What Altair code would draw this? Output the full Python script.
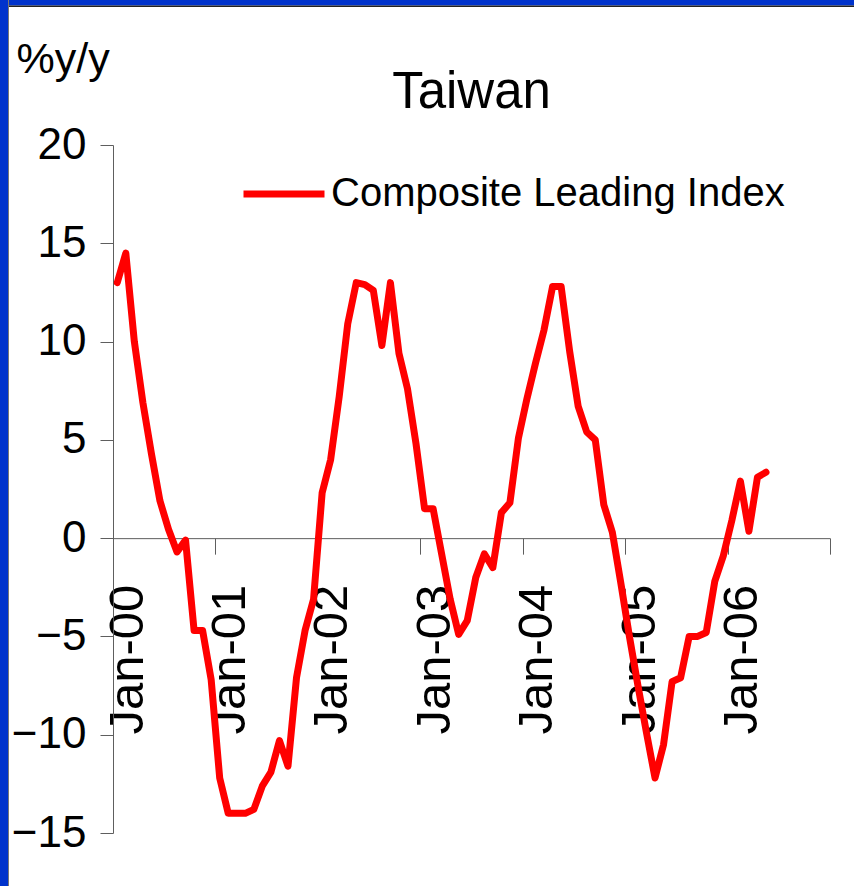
import json
import altair as alt
import pandas as pd

# Taiwan composite leading index, % change year on year, monthly from Jan-2000
TITLE = "Taiwan"
SERIES_NAME = "Composite Leading Index"
CLI_YOY = [
    13.0, 14.5, 10.0, 6.9, 4.3, 1.9, 0.45, -0.7, -0.1, -4.7, -4.7, -7.2,
    -12.2, -14.0, -14.0, -14.0, -13.8, -12.6, -11.9, -10.3, -11.6, -7.1, -4.7, -3.1,
    2.3, 4.0, 7.2, 10.9, 13.0, 12.9, 12.6, 9.8, 13.0, 9.4, 7.6, 4.8,
    1.5, 1.5, -0.8, -3.1, -4.9, -4.2, -2.0, -0.8, -1.5, 1.3, 1.8, 5.1,
    7.1, 8.9, 10.6, 12.8, 12.8, 9.5, 6.7, 5.4, 5.0, 1.7, 0.3, -2.3,
    -5.0, -7.5, -9.9, -12.2, -10.5, -7.3, -7.1, -5.0, -5.0, -4.8, -2.2, -0.9,
    0.9, 2.9, 0.35, 3.1, 3.35,
]
YEAR_LABELS = ["Jan-00", "Jan-01", "Jan-02", "Jan-03", "Jan-04", "Jan-05", "Jan-06"]
Y_TICKS = [-15, -10, -5, 0, 5, 10, 15, 20]

NARROW = "Liberation Sans Narrow, Arial Narrow, Liberation Sans, sans-serif"
REGULAR = "Liberation Sans, Arial, sans-serif"
BLUE = "#0033cc"
AXIS_GREY = "#5e5e5e"

# page 854 x 886, plot area placed at (113, 145)
PAD = {"left": 113, "top": 145, "right": 24, "bottom": 53}
W, H = 717, 688
Y_MIN, Y_MAX = -15, 20
N_CATS = 12 * len(YEAR_LABELS)  # category axis runs through Dec-06

df = pd.DataFrame({
    "month": list(range(len(CLI_YOY))),
    "yoy": CLI_YOY,
    "series": [SERIES_NAME] * len(CLI_YOY),
})

# ticks sit between December and January of each year
year_ticks = [12 * k - 0.5 for k in range(len(YEAR_LABELS) + 1)]
label_expr = (
    f"{json.dumps(YEAR_LABELS)}[round((datum.value + 0.5) / 12)] || ''"
)
# x axis crosses the value axis at zero
zero_offset = -H * (0 - Y_MIN) / (Y_MAX - Y_MIN)

line = alt.Chart(df).mark_line(
    strokeWidth=7, strokeJoin="round", strokeCap="round"
).encode(
    x=alt.X(
        "month:Q",
        scale=alt.Scale(domain=[-0.5, N_CATS - 0.5], nice=False, zero=False),
        axis=alt.Axis(
            values=year_ticks, labelExpr=label_expr, title=None, grid=False,
            offset=zero_offset, tickSize=16, tickColor=AXIS_GREY, tickWidth=1,
            domainColor=AXIS_GREY, domainWidth=1,
            labelAngle=270, labelAlign="right", labelBaseline="middle",
            labelPadding=30, labelOffset=14, labelFont=REGULAR, labelFontSize=49,
            labelColor="#000000", labelOverlap=False, labelFlush=False,
        ),
    ),
    y=alt.Y(
        "yoy:Q",
        scale=alt.Scale(domain=[Y_MIN, Y_MAX], nice=False, zero=False),
        axis=alt.Axis(
            values=Y_TICKS, grid=False, tickSize=13, tickColor=AXIS_GREY,
            domainColor=AXIS_GREY, labelPadding=14, labelFont=REGULAR,
            labelFontSize=44, labelColor="#000000",
            title="%y/y", titleAngle=0, titleAlign="left",
            titleBaseline="alphabetic", titleX=-97, titleY=-73,
            titleFont=NARROW, titleFontSize=43, titleFontWeight="normal",
            titleColor="#000000",
        ),
    ),
    color=alt.Color(
        "series:N",
        scale=alt.Scale(range=["#ff0000"]),
        legend=alt.Legend(
            title=None, orient="none", legendX=127, legendY=5,
            symbolType="stroke", symbolSize=6561, symbolStrokeWidth=7,
            labelFont=NARROW, labelFontSize=40, labelColor="#000000",
            labelOffset=3, labelLimit=1000, padding=0,
        ),
    ),
)

# chart heading, centred over the plot area
heading = alt.Chart(pd.DataFrame({"t": [TITLE]})).mark_text(
    font=NARROW, fontSize=51, color="#000000",
    align="center", baseline="alphabetic",
).encode(
    text="t:N",
    x=alt.value(W / 2),
    y=alt.value(-37),
)

# slide frame: blue bands on the top and left edges
frame_df = pd.DataFrame({
    "x": [-113, -113, -105, -113],
    "x2": [741, 741, -104, -105],
    "y": [-145, -139.5, -145, -145],
    "y2": [-139.5, -138, 741, 741],
    "c": [BLUE, "#222222", "#777777", BLUE],
})
frame = alt.Chart(frame_df).mark_rect().encode(
    x=alt.X("x:Q", scale=None), x2="x2:Q",
    y=alt.Y("y:Q", scale=None), y2="y2:Q",
    fill=alt.Fill("c:N", scale=None, legend=None),
)

chart = alt.layer(frame, heading, line).resolve_scale(color="independent").properties(
    width=W, height=H,
    padding=PAD,
    autosize=alt.AutoSizeParams(type="none"),
    background="#ffffff",
).configure_view(stroke=None)

chart.save("out.html", embed_options={"renderer": "svg", "actions": False})
